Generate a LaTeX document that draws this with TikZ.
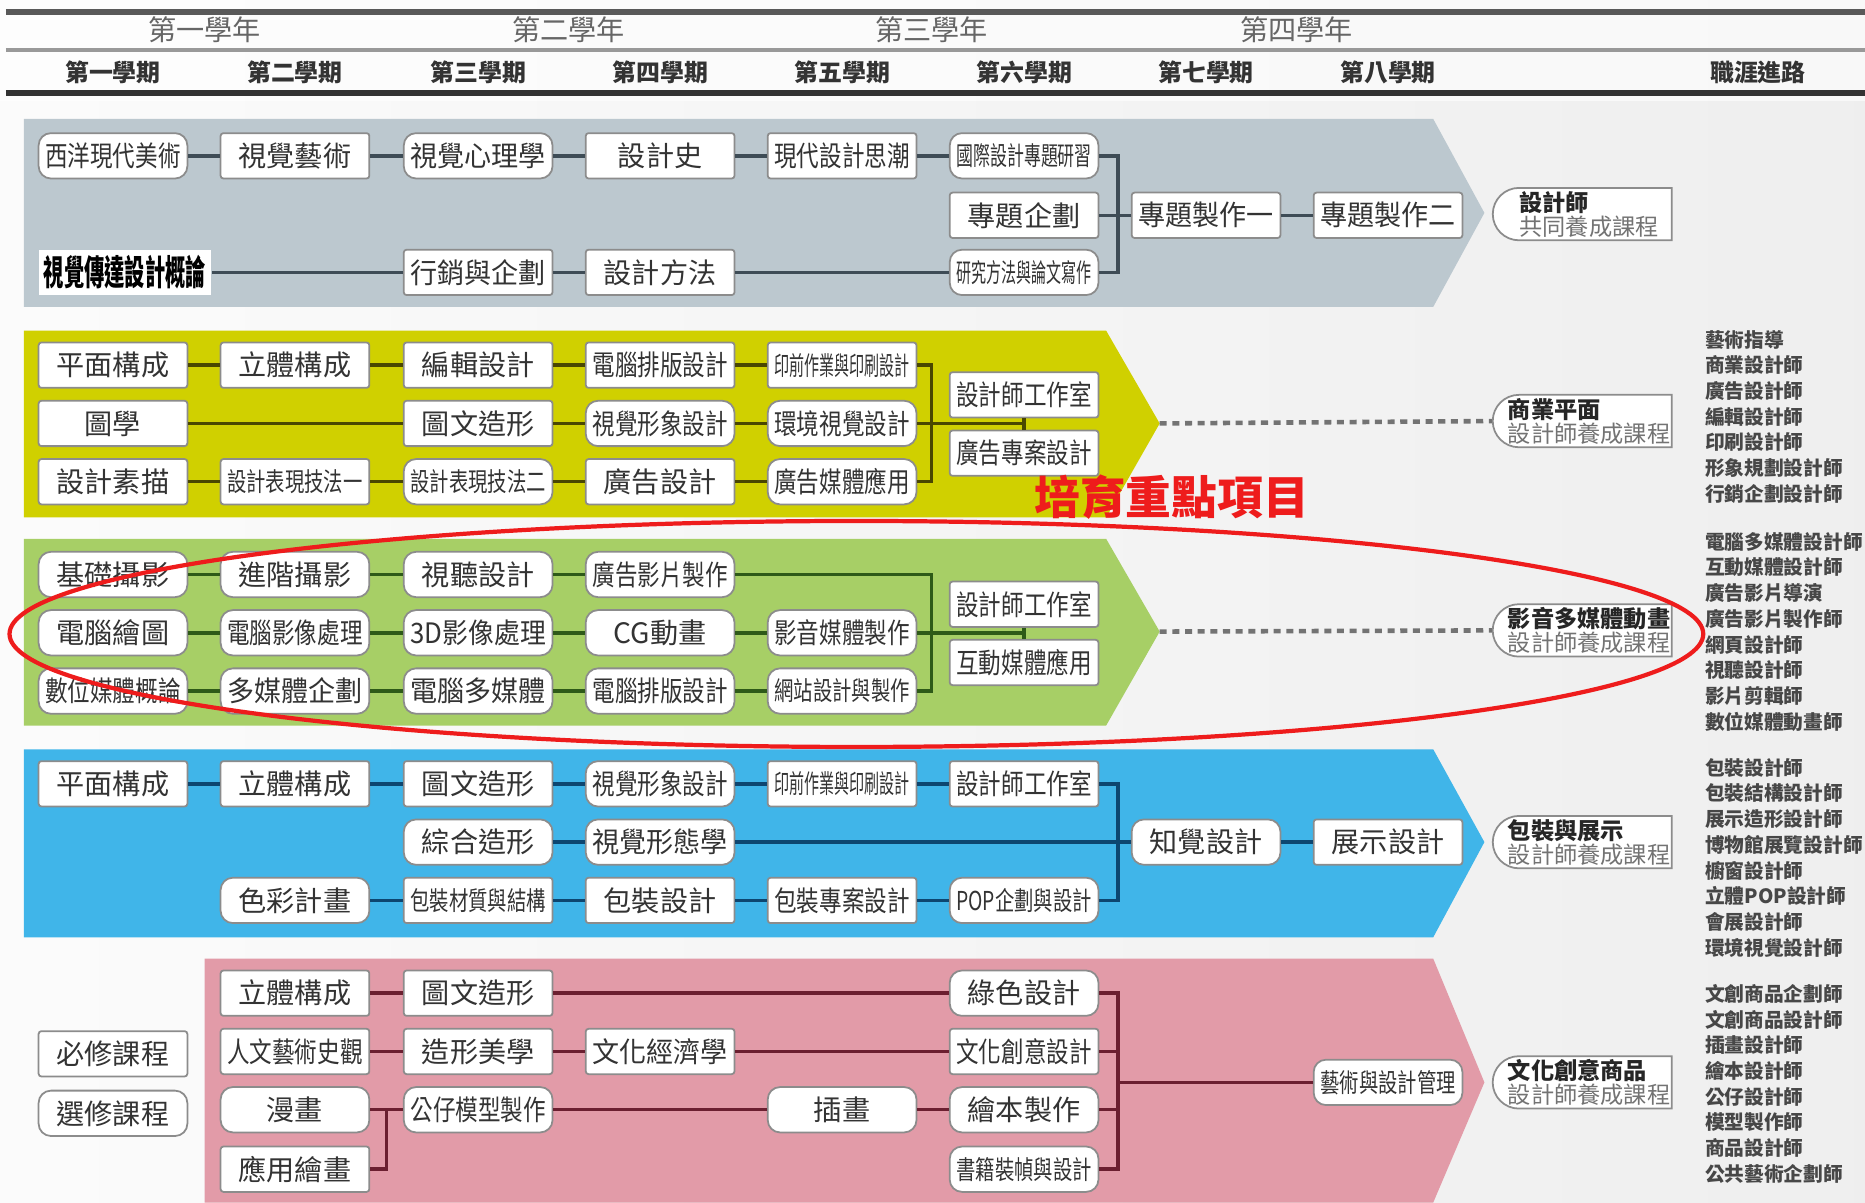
\documentclass[tikz,border=0pt]{standalone}
\usepackage{fontspec}
\setmainfont{Noto Sans CJK TC}
\usepackage{graphicx}
\usetikzlibrary{shapes.misc}
\definecolor{bandgray}{HTML}{BCC8CF}
\definecolor{bandyel}{HTML}{D0D000}
\definecolor{bandgrn}{HTML}{A7CF66}
\definecolor{bandblu}{HTML}{40B5E9}
\definecolor{bandpnk}{HTML}{E29BA8}
\definecolor{lngray}{HTML}{3E4C56}
\definecolor{lnyel}{HTML}{4A4700}
\definecolor{lngrn}{HTML}{2E5A18}
\definecolor{lnblu}{HTML}{0D4670}
\definecolor{lnpnk}{HTML}{6B1F30}
\definecolor{focusred}{HTML}{EE1C1C}
\newsavebox\lblbox
\newcommand\fit[1]{\sbox\lblbox{#1}\ifdim\wd\lblbox>38.5pt\resizebox{38.5pt}{\height}{#1}\else\usebox\lblbox\fi}
\begin{document}
\begin{tikzpicture}[x=0.011894cm,y=-0.011894cm,
box/.style={draw=black!45,fill=white,line width=0.5pt,minimum width=42.3pt,minimum height=12.9pt,inner sep=0pt,font=\fontsize{8}{8}\selectfont,text=black!80},
req/.style={box,rounded corners=0.8pt},
ele/.style={box,rounded corners=3.5pt},
sm/.style={font=\fontsize{7.4}{7.6}\selectfont},
ln/.style={line width=1pt},
car/.style={shape=rounded rectangle,rounded rectangle right arc=none,draw=black!45,fill=white,line width=0.5pt,minimum width=56.9pt,minimum height=14.9pt,inner xsep=3pt,inner ysep=0pt,align=left,font=\fontsize{6.6}{6.8}\selectfont},
job/.style={anchor=north west,inner sep=0pt,align=left,font=\fontsize{5.6}{7.3}\selectfont\bfseries,text=black!72},
yr/.style={font=\fontsize{8}{8}\selectfont,text=black!60},
sem/.style={font=\fontsize{6.8}{7}\selectfont\bfseries,text=black!80}]
\useasboundingbox (0,0) rectangle (1568,1011);
\shade[left color=gray!3,right color=gray!13] (0,0) rectangle (1568,1011);
\fill[white,opacity=0.6] (0,0) rectangle (1568,85);
\draw[line width=1.8pt,black!65] (5,10)--(1568,10);
\draw[line width=1.3pt,black!40] (5,42)--(1568,42);
\draw[line width=1.8pt,black!80] (5,78)--(1568,78);
\node[yr] (yr1) at (172,25) {第一學年};
\node[yr] (yr2) at (478,25) {第二學年};
\node[yr] (yr3) at (783,25) {第三學年};
\node[yr] (yr4) at (1090,25) {第四學年};
\node[sem] (sm1) at (95,61) {第一學期};
\node[sem] (sm2) at (248,61) {第二學期};
\node[sem] (sm3) at (402,61) {第三學期};
\node[sem] (sm4) at (555,61) {第四學期};
\node[sem] (sm5) at (708,61) {第五學期};
\node[sem] (sm6) at (861,61) {第六學期};
\node[sem] (sm7) at (1014,61) {第七學期};
\node[sem] (sm8) at (1167,61) {第八學期};
\node[sem] (smc) at (1478,61) {職涯進路};
\fill[bandgray] (20,100)--(1205,100)--(1248,179)--(1205,258)--(20,258)--cycle;
\fill[bandyel] (20,278)--(930,278)--(975,356)--(930,435)--(20,435)--cycle;
\fill[bandgrn] (20,453)--(930,453)--(975,531)--(930,610)--(20,610)--cycle;
\fill[bandblu] (20,630)--(1205,630)--(1248,708)--(1205,788)--(20,788)--cycle;
\fill[bandpnk] (172,806)--(1205,806)--(1248,910)--(1205,1011)--(172,1011)--cycle;
% band 1
\node[ele] (g11) at (95,131) {\fit{西洋現代美術}};
\node[req] (g12) at (248,131) {視覺藝術};
\node[ele] (g13) at (402,131) {\fit{視覺心理學}};
\node[req] (g14) at (555,131) {設計史};
\node[req] (g15) at (708,131) {\fit{現代設計思潮}};
\node[ele,sm] (g16) at (861,131) {\fit{國際設計專題研習}};
\node[req] (g26) at (861,181) {專題企劃};
\node[req] (g27) at (1014,181) {\fit{專題製作一}};
\node[req] (g28) at (1167,181) {\fit{專題製作二}};
\node[fill=white,minimum width=49pt,minimum height=12.9pt,inner sep=0pt,font=\fontsize{10}{10}\selectfont\bfseries] (g31) at (105,229) {\resizebox{46pt}{\height}{視覺傳達設計概論}};
\node[req] (g33) at (402,229) {\fit{行銷與企劃}};
\node[req] (g34) at (555,229) {設計方法};
\node[ele,sm] (g36) at (861,229) {\fit{研究方法與論文寫作}};
\coordinate (gj) at (940,181);
\begin{scope}[ln,draw=lngray]
\draw (g11)--(g12)--(g13)--(g14)--(g15)--(g16);
\draw (g31)--(g33)--(g34)--(g36);
\draw (g16.east)-|(gj);
\draw (g36.east)-|(gj);
\draw (g26)--(g27)--(g28);
\end{scope}
% band 2
\node[req] (y11) at (95,307) {平面構成};
\node[req] (y12) at (248,307) {立體構成};
\node[req] (y13) at (402,307) {編輯設計};
\node[req] (y14) at (555,307) {\fit{電腦排版設計}};
\node[req,sm] (y15) at (708,307) {\fit{印前作業與印刷設計}};
\node[req] (y21) at (95,356) {圖學};
\node[req] (y23) at (402,356) {圖文造形};
\node[ele] (y24) at (555,356) {\fit{視覺形象設計}};
\node[ele] (y25) at (708,356) {\fit{環境視覺設計}};
\node[req] (y31) at (95,405) {設計素描};
\node[req,sm] (y32) at (248,405) {\fit{設計表現技法一}};
\node[ele,sm] (y33) at (402,405) {\fit{設計表現技法二}};
\node[req] (y34) at (555,405) {廣告設計};
\node[ele] (y35) at (708,405) {\fit{廣告媒體應用}};
\node[req] (ya) at (861,332) {\fit{設計師工作室}};
\node[req] (yb) at (861,381) {\fit{廣告專案設計}};
\coordinate (yj) at (783,356);
\coordinate (ym) at (861,356);
\coordinate (ytip) at (975,356);
\begin{scope}[ln,draw=lnyel]
\draw (y11)--(y12)--(y13)--(y14)--(y15);
\draw (y21)--(y23)--(y24)--(y25);
\draw (y31)--(y32)--(y33)--(y34)--(y35);
\draw (y15.east)-|(yj);
\draw (y35.east)-|(yj);
\draw (y25.east)--(ym);
\draw (ya.south)--(yb.north);
\end{scope}
% band 3
\node[ele] (e11) at (95,483) {基礎攝影};
\node[ele] (e12) at (248,483) {進階攝影};
\node[ele] (e13) at (402,483) {視聽設計};
\node[ele] (e14) at (555,483) {\fit{廣告影片製作}};
\node[ele] (e21) at (95,532) {電腦繪圖};
\node[ele] (e22) at (248,532) {\fit{電腦影像處理}};
\node[ele] (e23) at (402,532) {\fit{3D影像處理}};
\node[ele] (e24) at (555,532) {CG動畫};
\node[ele] (e25) at (708,532) {\fit{影音媒體製作}};
\node[ele] (e31) at (95,581) {\fit{數位媒體概論}};
\node[ele] (e32) at (248,581) {\fit{多媒體企劃}};
\node[ele] (e33) at (402,581) {\fit{電腦多媒體}};
\node[ele] (e34) at (555,581) {\fit{電腦排版設計}};
\node[ele,sm] (e35) at (708,581) {\fit{網站設計與製作}};
\node[req] (ea) at (861,508) {\fit{設計師工作室}};
\node[req] (eb) at (861,557) {\fit{互動媒體應用}};
\coordinate (ej) at (783,532);
\coordinate (em) at (861,532);
\coordinate (etip) at (975,531);
\begin{scope}[ln,draw=lngrn]
\draw (e11)--(e12)--(e13)--(e14);
\draw (e21)--(e22)--(e23)--(e24)--(e25);
\draw (e31)--(e32)--(e33)--(e34)--(e35);
\draw (e14.east)-|(ej);
\draw (e35.east)-|(ej);
\draw (e25.east)--(em);
\draw (ea.south)--(eb.north);
\end{scope}
% band 4
\node[req] (b11) at (95,659) {平面構成};
\node[req] (b12) at (248,659) {立體構成};
\node[req] (b13) at (402,659) {圖文造形};
\node[ele] (b14) at (555,659) {\fit{視覺形象設計}};
\node[req,sm] (b15) at (708,659) {\fit{印前作業與印刷設計}};
\node[req] (b16) at (861,659) {\fit{設計師工作室}};
\node[ele] (b23) at (402,708) {綜合造形};
\node[ele] (b24) at (555,708) {\fit{視覺形態學}};
\node[ele] (b27) at (1014,708) {知覺設計};
\node[req] (b28) at (1167,708) {展示設計};
\node[ele] (b32) at (248,757) {色彩計畫};
\node[req,sm] (b33) at (402,757) {\fit{包裝材質與結構}};
\node[req] (b34) at (555,757) {包裝設計};
\node[req] (b35) at (708,757) {\fit{包裝專案設計}};
\node[ele,sm] (b36) at (861,757) {\fit{POP企劃與設計}};
\coordinate (bj) at (940,708);
\begin{scope}[ln,draw=lnblu]
\draw (b11)--(b12)--(b13)--(b14)--(b15)--(b16);
\draw (b23)--(b24)--(b27)--(b28);
\draw (b32)--(b33)--(b34)--(b35)--(b36);
\draw (b16.east)-|(bj);
\draw (b36.east)-|(bj);
\end{scope}
% band 5
\node[req] (p12) at (248,835) {立體構成};
\node[req] (p13) at (402,835) {圖文造形};
\node[ele] (p16) at (861,835) {綠色設計};
\node[req] (p22) at (248,884) {\fit{人文藝術史觀}};
\node[req] (p23) at (402,884) {造形美學};
\node[req] (p24) at (555,884) {\fit{文化經濟學}};
\node[req] (p26) at (861,884) {\fit{文化創意設計}};
\node[ele] (p32) at (248,933) {漫畫};
\node[ele] (p33) at (402,933) {\fit{公仔模型製作}};
\node[ele] (p35) at (708,933) {插畫};
\node[ele] (p36) at (861,933) {繪本製作};
\node[req] (p42) at (248,983) {應用繪畫};
\node[ele,sm] (p46) at (861,983) {\fit{書籍裝幀與設計}};
\node[ele,sm] (pm) at (1167,910) {\fit{藝術與設計管理}};
\coordinate (pk) at (325,933);
\coordinate (pj) at (940,910);
\begin{scope}[ln,draw=lnpnk]
\draw (p12)--(p13)--(p16);
\draw (p22)--(p23)--(p24)--(p26);
\draw (p32)--(p33)--(p35)--(p36);
\draw (p42.east)-|(pk);
\draw (p16.east)-|(pj);
\draw (p26.east)-|(pj);
\draw (p36.east)-|(pj);
\draw (p46.east)-|(pj);
\draw (pj)--(pm);
\end{scope}
% legend
\node[req] (l1) at (95,886) {必修課程};
\node[ele] (l2) at (95,936) {選修課程};
% careers
\node[car] (car1) at (1336,180) {{\color{black!85}\bfseries 設計師}\\{\color{black!55}共同養成課程}};
\node[car] (car2) at (1336,354) {{\color{black!85}\bfseries 商業平面}\\{\color{black!55}設計師養成課程}};
\node[car] (car3) at (1336,530) {{\color{black!85}\bfseries 影音多媒體動畫}\\{\color{black!55}設計師養成課程}};
\node[car] (car4) at (1336,708) {{\color{black!85}\bfseries 包裝與展示}\\{\color{black!55}設計師養成課程}};
\node[car] (car5) at (1336,910) {{\color{black!85}\bfseries 文化創意商品}\\{\color{black!55}設計師養成課程}};
\draw[line width=1.3pt,black!55,dash pattern=on 2pt off 1.6pt] (ytip)--(car2.west);
\draw[line width=1.3pt,black!55,dash pattern=on 2pt off 1.6pt] (etip)--(car3.west);
\node[job] (job2) at (1433,277) {藝術指導\\商業設計師\\廣告設計師\\編輯設計師\\印刷設計師\\形象規劃設計師\\行銷企劃設計師};
\node[job] (job3) at (1433,447) {電腦多媒體設計師\\互動媒體設計師\\廣告影片導演\\廣告影片製作師\\網頁設計師\\視聽設計師\\影片剪輯師\\數位媒體動畫師};
\node[job] (job4) at (1433,637) {包裝設計師\\包裝結構設計師\\展示造形設計師\\博物館展覽設計師\\櫥窗設計師\\立體POP設計師\\會展設計師\\環境視覺設計師};
\node[job] (job5) at (1433,827) {文創商品企劃師\\文創商品設計師\\插畫設計師\\繪本設計師\\公仔設計師\\模型製作師\\商品設計師\\公共藝術企劃師};
% focus
\draw[focusred,line width=1.2pt] (720,533) ellipse [x radius=712,y radius=95];
\node[text=focusred,font=\fontsize{13}{13}\selectfont\bfseries] (focus) at (985,418) {培育重點項目};
\end{tikzpicture}
\end{document}
